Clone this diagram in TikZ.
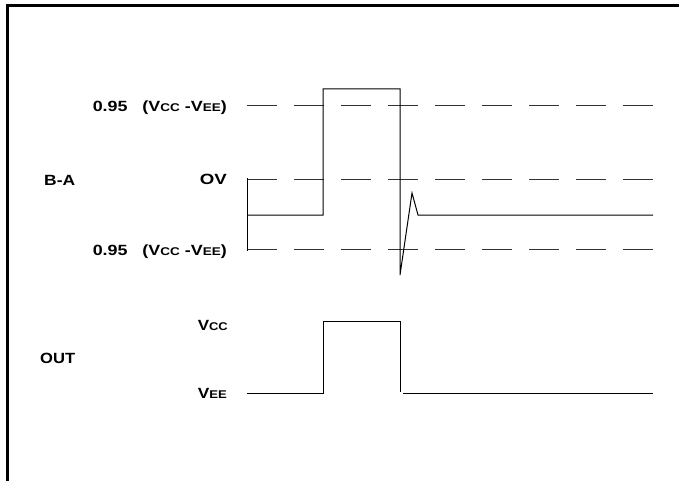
\documentclass[tikz,border=0pt]{standalone}
\usepackage{fontspec}
\setmainfont{Liberation Sans}
\newcommand{\smc}[1]{{\fontsize{11.2pt}{13pt}\selectfont #1}}
\newcommand{\wlbl}[2]{\resizebox{#1}{\height}{#2}}
\begin{document}
\begin{tikzpicture}[x=1pt,y=-1pt,
  frame/.style={line width=3pt,line join=miter},
  wave/.style={line width=1pt,black},
  level/.style={line width=1pt,black!80,dash pattern=on 30pt off 17pt},
  lbl/.style={font=\fontsize{14.8pt}{17pt}\selectfont\bfseries,inner sep=0pt}]
\useasboundingbox (0,0) rectangle (679,481);
% frame
\draw[frame] (679,5.5) -- (7.5,5.5) -- (7.5,481);
% reference levels
\coordinate (u0) at (247,106); \coordinate (u1) at (654,106);
\coordinate (m0) at (247,179); \coordinate (m1) at (654,179);
\coordinate (l0) at (247,249); \coordinate (l1) at (654,249);
\draw[level] (u0) -- (u1);
\draw[level] (m0) -- (m1);
\draw[level] (l0) -- (l1);
% B-A waveform
\draw[wave] (247,178) -- (247,251);
\draw[wave] (247,215) -- (323,215) -- (323,89) -- (400,89) -- (400,275)
  -- (412,193) -- (418,215) -- (653,215);
% OUT waveform
\draw[wave] (247,393) -- (323,393) -- (323,321) -- (400,321) -- (400,392);
\draw[wave] (403,393) -- (653,393);
% labels
\node[lbl,anchor=base east] (t1) at (227,111.5) {\wlbl{134pt}{0.95\ \ \ (V\smc{CC} -V\smc{EE})}};
\node[lbl,anchor=base east] (t2) at (227,255.5) {\wlbl{134pt}{0.95\ \ \ (V\smc{CC} -V\smc{EE})}};
\node[lbl,anchor=base east] (ov) at (227,184.5) {\wlbl{27pt}{OV}};
\node[lbl,anchor=base west] (ba) at (44,185) {\wlbl{31pt}{B-A}};
\node[lbl,anchor=base west] (out) at (40,363) {\wlbl{35pt}{OUT}};
\node[lbl,anchor=base east] (vcc) at (228,330.5) {\wlbl{30pt}{V\smc{CC}}};
\node[lbl,anchor=base east] (vee) at (227,398) {\wlbl{29pt}{V\smc{EE}}};
\end{tikzpicture}
\end{document}
